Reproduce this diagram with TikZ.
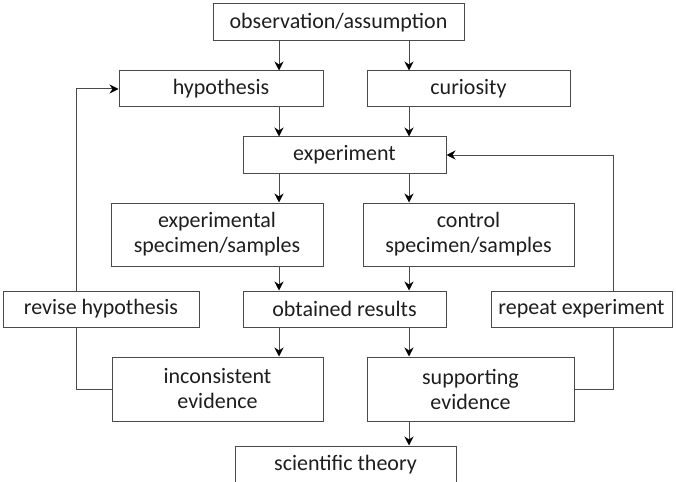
\documentclass[tikz,border=0pt]{standalone}
\usepackage{fontspec}
\setmainfont{Carlito}
\usetikzlibrary{arrows.meta}
\definecolor{linegray}{HTML}{4A4A4A}
\definecolor{textgray}{HTML}{1E1E1E}
\begin{document}
\begin{tikzpicture}[x=1pt,y=-1pt,
  box/.style={draw=linegray, line width=1pt, text=textgray,
    font=\fontsize{22}{25}\selectfont, align=center, inner sep=0pt},
  link/.style={draw=linegray, line width=1pt},
  flow/.style={link, -{Stealth[length=9pt,width=9pt,inset=3pt,color=black]}}]
\useasboundingbox (0,0) rectangle (676,481);

% columns and loop rails
\coordinate (colL) at (279,0);
\coordinate (colR) at (409,0);
\coordinate (loopL) at (76,0);
\coordinate (loopR) at (613,0);

% boxes
\node[box, minimum width=251pt, minimum height=37pt] (obs) at (338.5,22.5) {observation/assumption};
\node[box, minimum width=204pt, minimum height=36pt] (hyp) at (221,89) {hypothesis};
\node[box, minimum width=203pt, minimum height=36pt] (cur) at (468.5,89) {curiosity};
\node[box, minimum width=203pt, minimum height=36pt] (exp) at (344.5,155) {experiment};
\node[box, minimum width=212pt, minimum height=63pt] (expspec) at (217,234.5) {experimental\\specimen/samples};
\node[box, minimum width=211pt, minimum height=63pt] (ctrl) at (468.5,234.5) {control\\specimen/samples};
\node[box, minimum width=196pt, minimum height=36pt] (revise) at (101,309) {revise hypothesis};
\node[box, minimum width=203pt, minimum height=36pt] (res) at (344.5,309) {obtained results};
\node[box, minimum width=181pt, minimum height=36pt] (repeat) at (581.5,309) {repeat experiment};
\node[box, minimum width=211pt, minimum height=64pt] (incons) at (217.5,389) {inconsistent\\evidence};
\node[box, minimum width=207pt, minimum height=64pt] (support) at (470.5,389) {supporting\\evidence};
\node[box, minimum width=221pt, minimum height=37pt] (theory) at (345.5,464.5) {scientific theory};

% main flow
\draw[flow] (obs.south -| colL) -- (hyp.north -| colL);
\draw[flow] (obs.south -| colR) -- (cur.north -| colR);
\draw[flow] (hyp.south -| colL) -- (exp.north -| colL);
\draw[flow] (cur.south -| colR) -- (exp.north -| colR);
\draw[flow] (exp.south -| colL) -- (expspec.north -| colL);
\draw[flow] (exp.south -| colR) -- (ctrl.north -| colR);
\draw[flow] (expspec.south -| colL) -- (res.north -| colL);
\draw[flow] (ctrl.south -| colR) -- (res.north -| colR);
\draw[flow] (res.south -| colL) -- (incons.north -| colL);
\draw[flow] (res.south -| colR) -- (support.north -| colR);
\draw[flow] (support.south -| colR) -- (theory.north -| colR);

% feedback loops
\draw[link] (incons.west) -- (incons.west -| loopL) -- (revise.south -| loopL);
\draw[flow] (revise.north -| loopL) -- (hyp.west -| loopL) -- (hyp.west);
\draw[link] (support.east) -- (support.east -| loopR) -- (repeat.south -| loopR);
\draw[flow] (repeat.north -| loopR) -- (exp.east -| loopR) -- (exp.east);
\end{tikzpicture}
\end{document}
